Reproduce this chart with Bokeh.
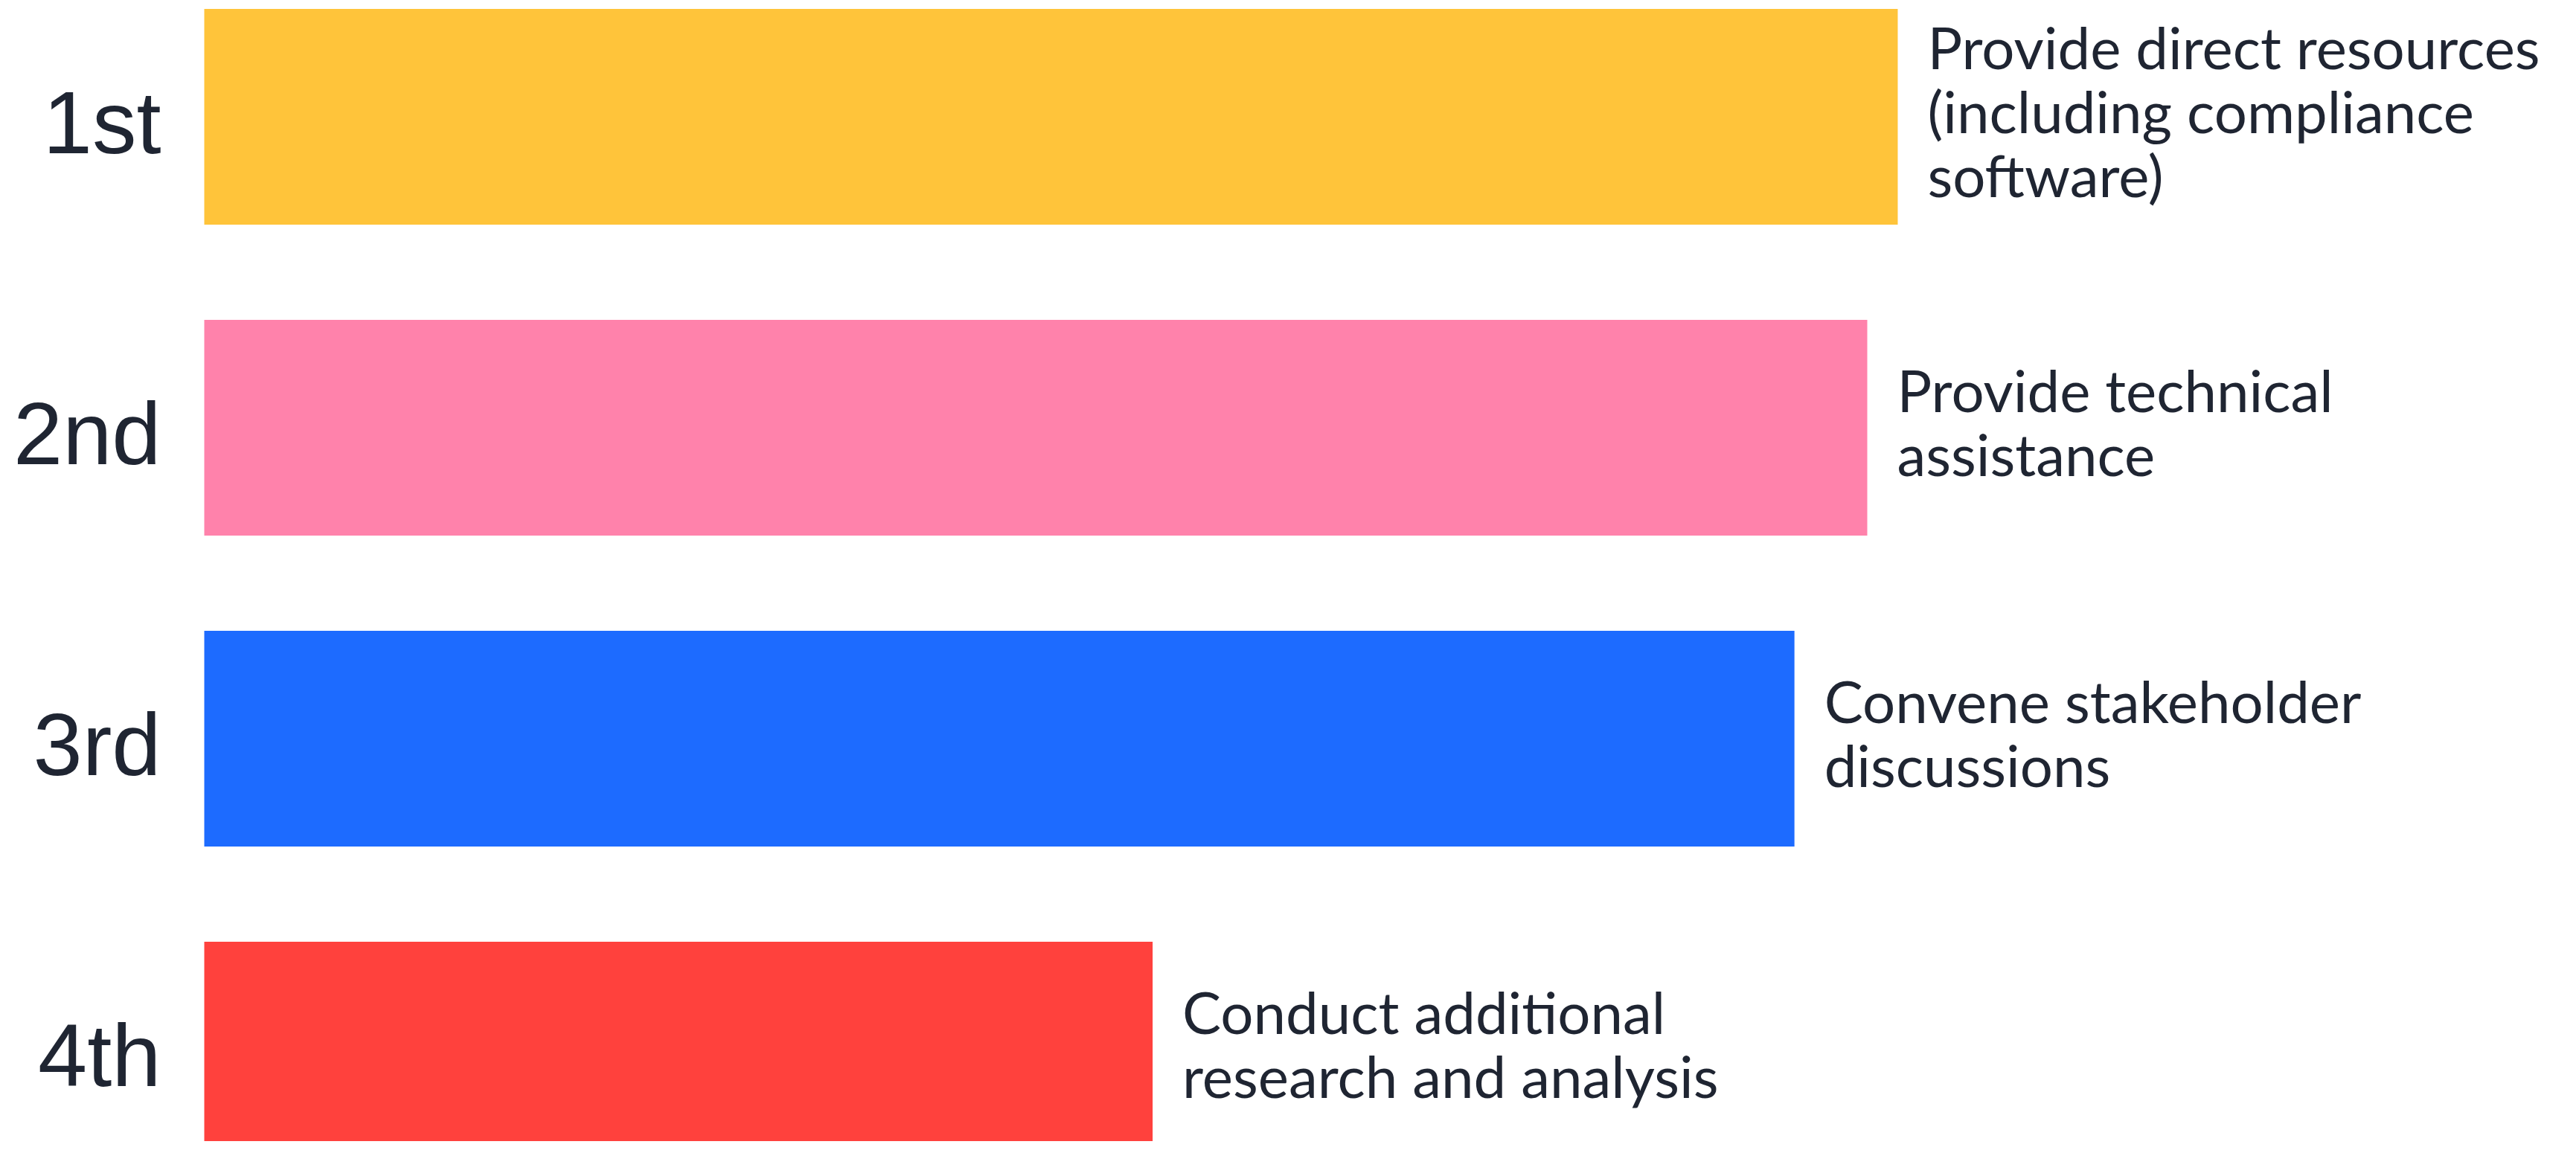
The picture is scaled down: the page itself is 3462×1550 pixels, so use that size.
from bokeh.plotting import figure
from bokeh.models import Range1d, ColumnDataSource
from bokeh.core.properties import value
from bokeh.embed import file_html
from bokeh.resources import INLINE

ranks = ["1st", "2nd", "3rd", "4th"]
positions = [1, 2, 3, 4]
scores = [100.0, 98.2, 93.9, 56.0]
labels = [
    "Provide direct resources\n(including compliance\nsoftware)",
    "Provide technical\nassistance",
    "Convene stakeholder\ndiscussions",
    "Conduct additional\nresearch and analysis",
]
colors = ["#FFC43A", "#FF82AB", "#1D6BFF", "#FF413D"]

src = ColumnDataSource(dict(pos=positions, score=scores, rank=ranks, label=labels, color=colors))

p = figure(width=3446, height=1534, output_backend="svg", toolbar_location=None,
           x_range=Range1d(-12.04, 139.37), y_range=Range1d(4.2955, 0.6256),
           x_axis_location=None, y_axis_location=None, min_border=0)
p.grid.visible = False
p.outline_line_color = None
p.background_fill_color = "white"
p.border_fill_color = "white"

p.hbar(y="pos", right="score", left=0, height=0.694, fill_color="color", line_color=None, source=src)

text_color = "#1F2532"
p.text(x=0, y="pos", text="rank", source=src, x_offset=-58, y_offset=8, text_align="right",
       text_baseline="middle", text_font=value("Liberation Sans"), text_font_size="119px",
       text_color=text_color)
p.text(x="score", y="pos", text="label", source=src, x_offset=40, y_offset=-8, text_align="left",
       text_baseline="middle", text_font=value("Lato"), text_font_size="78px",
       text_line_height=0.92, text_color=text_color)

open("out.html", "w").write(file_html(p, INLINE))
